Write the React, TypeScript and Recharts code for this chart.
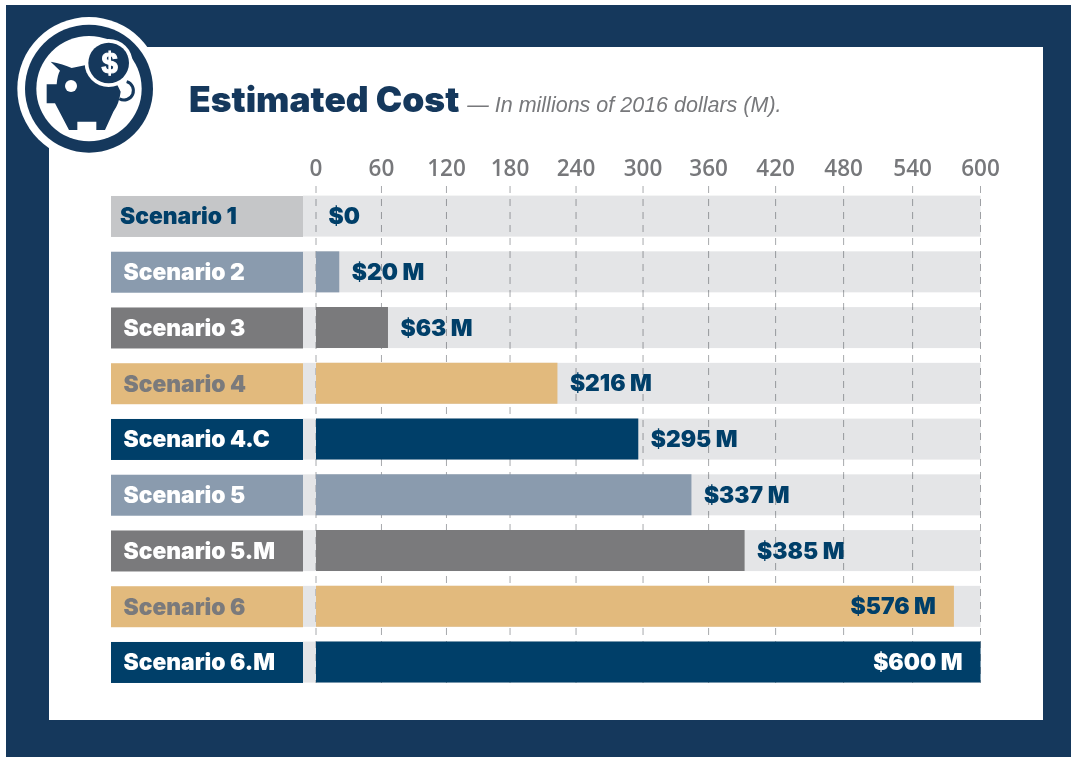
import { BarChart, Bar, XAxis, YAxis, CartesianGrid, Cell, LabelList } from 'recharts';

const scenarios = ['Scenario 1', 'Scenario 2', 'Scenario 3', 'Scenario 4', 'Scenario 4.C', 'Scenario 5', 'Scenario 5.M', 'Scenario 6', 'Scenario 6.M'];
// bar lengths as drawn, the printed labels are a bit off from them in places
const barValues = [0, 21, 65, 218, 291, 339, 387, 576, 600];
const valueLabels = ['$0', '$20 M', '$63 M', '$216 M', '$295 M', '$337 M', '$385 M', '$576 M', '$600 M'];
// the printed axis is not evenly spaced, so these are where each tick sits on the bar scale
const tickPlaces = [0, 59.1, 117.8, 175.2, 234.8, 295.3, 354.5, 415, 476.4, 538.7, 600];
const tickLabels = ['0', '60', '120', '180', '240', '300', '360', '420', '480', '540', '600'];

const barColors = ['#c5c6c8', '#8a9bae', '#7a7a7c', '#e2ba7d', '#003f69', '#8a9bae', '#7a7a7c', '#e2ba7d', '#003f69'];
const nameTextColors = ['#003f69', '#ffffff', '#ffffff', '#7a7a7c', '#ffffff', '#ffffff', '#ffffff', '#7a7a7c', '#ffffff'];

const NAVY = '#15385c';
const DARK = '#003f69';
const HEAVY = 'Inter, sans-serif';

const chartData = scenarios.map((name, i) => ({ name, value: barValues[i], label: valueLabels[i] }));

function NameTick({ y, payload, index }: any) {
  return (
    <g>
      <rect x={111} y={y - 20.5} width={192} height={41} fill={barColors[index]} />
      <text x={index === 0 ? 120 : 123.5} y={y + 8} fill={nameTextColors[index]} fontFamily={HEAVY} fontWeight={900} fontSize={22.8}>
        {payload.value}
      </text>
    </g>
  );
}

// multiply so the dashed grid still shows through the grey track
function TrackBackground({ x, y, width, height }: any) {
  return <rect x={x - 13} y={y} width={width + 13} height={height} fill="#e4e5e7" style={{ mixBlendMode: 'multiply' }} />;
}

function ValueLabel({ x, y, width, height, index, value }: any) {
  const inside = barValues[index] > 500;
  const tx = inside ? x + width - 18 : x + width + 12.5;
  return (
    <text
      x={tx}
      y={y + height / 2 + 8}
      textAnchor={inside ? 'end' : 'start'}
      fill={index === 8 ? '#ffffff' : DARK}
      fontFamily={HEAVY}
      fontWeight={900}
      fontSize={22.8}
    >
      {value}
    </text>
  );
}

function PiggyIcon() {
  return (
    <svg width={400} height={300} viewBox="0 0 1200 900" style={{ position: 'absolute', left: 0, top: 0 }}>
      <circle cx={267} cy={266} r={215} fill="#ffffff" />
      <circle cx={267} cy={266} r={192} fill={NAVY} />
      <circle cx={267} cy={266} r={158} fill="#ffffff" />
      <path
        d="M152 185 Q190 192 215 204 L262 194 L340 230 L362 275 Q358 310 340 335 L315 390 L289 390 L289 365 L232 365 L232 390 L207 390 L165 310 L140 310 L140 253 L170 253 Q172 225 180 212 Z"
        fill={NAVY}
      />
      <circle cx={213} cy={258} r={18} fill="#ffffff" />
      <path d="M380 245 A28 28 0 1 1 358 296" stroke={NAVY} strokeWidth={9} fill="none" />
      <circle cx={326} cy={189} r={72} fill="#ffffff" />
      <circle cx={326} cy={189} r={61} fill={NAVY} />
      <text x={329} y={220} textAnchor="middle" fill="#ffffff" stroke="#ffffff" strokeWidth={3} fontFamily="Liberation Sans" fontWeight={700} fontSize={88}>
        $
      </text>
    </svg>
  );
}

export default function App() {
  return (
    <div style={{ position: 'absolute', left: 0, top: 0, width: 1071, height: 757, background: '#ffffff', overflow: 'hidden' }}>
      <div style={{ position: 'absolute', left: 6, top: 5, width: 1065, height: 752, background: NAVY }} />
      <div style={{ position: 'absolute', left: 49, top: 47, width: 994, height: 673, background: '#ffffff' }} />
      <PiggyIcon />
      <div style={{ position: 'absolute', left: 189, top: 78, whiteSpace: 'nowrap', lineHeight: '44px' }}>
        <span style={{ fontFamily: HEAVY, fontWeight: 900, fontSize: 35.4, color: NAVY }}>Estimated Cost</span>
        <span style={{ fontFamily: 'Liberation Sans', fontStyle: 'italic', fontSize: 21.5, color: '#77787b', marginLeft: 8 }}>
          — In millions of 2016 dollars (M).
        </span>
      </div>
      <div style={{ position: 'absolute', left: 0, top: 0 }}>
        <BarChart
          width={1071}
          height={757}
          layout="vertical"
          data={chartData}
          barSize={41}
          margin={{ top: 158.6, right: 90.5, bottom: 66.65, left: 0 }}
        >
          <CartesianGrid horizontal={false} stroke="#a7a9ac" strokeDasharray="7 6" y={186} height={497} />
          <XAxis
            type="number"
            orientation="top"
            domain={[0, 600]}
            ticks={tickPlaces}
            tickFormatter={(v: number) => tickLabels[tickPlaces.indexOf(v)]}
            interval={0}
            axisLine={false}
            tickLine={false}
            tickMargin={7}
            tick={{ fill: '#77787b', fontSize: 22.5, fontWeight: 600, fontFamily: 'Open Sans' }}
          />
          <YAxis type="category" dataKey="name" width={316} axisLine={false} tickLine={false} interval={0} tick={<NameTick />} />
          <Bar dataKey="value" isAnimationActive={false} minPointSize={0.01} background={<TrackBackground />}>
            {chartData.map((d, i) => (
              <Cell key={d.name} fill={barColors[i]} />
            ))}
            <LabelList dataKey="label" content={<ValueLabel />} />
          </Bar>
        </BarChart>
      </div>
    </div>
  );
}
